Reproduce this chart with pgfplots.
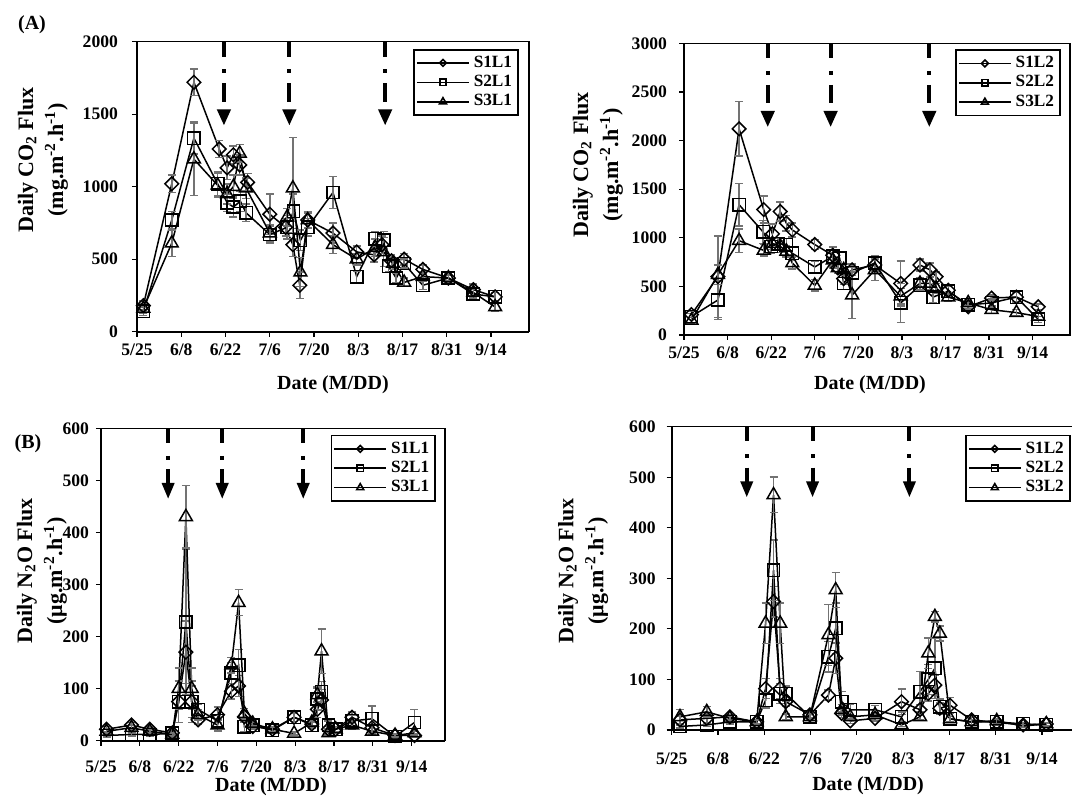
\documentclass[border=0pt]{standalone}
\usepackage{pgfplots}
\pgfplotsset{compat=1.18}
\usepackage{pgfplotstable}
\usepackage{fontspec}
\setmainfont{Liberation Serif}
\definecolor{errgray}{RGB}{115,115,115}

% ---------- CO2, L1 ----------
\pgfplotstableread{
x y e
2 180 30
11 1020 60
18 1720 90
26 1260 60
28.5 1130 80
30.5 1220 60
32.5 1150 70
35 1030 60
42 810 140
47 720 60
49.3 600 80
51.5 320 90
54 770 60
62 680 70
69.5 550 40
75 530 50
77.5 600 60
80.5 490 40
84.5 500 40
90.4 430 30
98.5 370 20
106.4 290 40
113.3 240 30
}\tAa
\pgfplotstableread{
x y e
2 140 30
11 770 60
18 1335 110
25.5 1020 80
28.5 890 60
30.5 860 70
32.7 900 70
34.5 820 60
42 670 60
47.5 720 80
49.5 830 120
51.7 630 70
54 720 60
62 960 110
69.5 380 40
75.4 640 50
78 630 60
79.6 450 40
82 370 30
84.5 470 30
90.4 320 30
98.5 370 30
106.4 260 30
113.3 240 30
}\tAb
\pgfplotstableread{
x y e
2 160 30
11 610 90
18 1190 250
25.5 1010 80
28.5 950 70
30.5 1000 80
32.5 1230 60
34.5 990 70
42 680 60
47.5 790 60
49.3 990 350
51.7 410 100
54 770 50
62 600 60
69.5 500 40
75.4 580 60
78 550 100
81 470 40
84.5 340 30
90.4 380 30
98.5 370 30
106.4 270 30
113.3 170 30
}\tAc
% ---------- CO2, L2 ----------
\pgfplotstableread{
x y e
2.4 210 30
10.9 600 420
17.7 2120 280
25.6 1290 140
28.4 1040 100
30.9 1270 100
32.9 1150 80
34.8 1080 70
42 930 50
47.8 820 80
49.4 690 60
51.3 580 60
54 670 60
61.3 720 60
69.6 530 230
75.8 720 60
79 670 70
81 600 50
84.9 460 40
91.3 290 30
98.8 380 30
106.8 390 50
113.8 290 30
}\tBa
\pgfplotstableread{
x y e
2.4 190 30
10.9 360 200
17.7 1340 220
25.4 1060 120
28 910 70
30.2 940 60
32.9 930 60
34.8 840 70
42 700 60
47.8 810 100
50 790 60
51.3 530 60
54 640 60
61.3 740 70
69.6 330 200
75.8 510 60
80 390 60
84.9 450 50
91.3 310 40
98.8 330 40
106.8 390 60
113.8 160 30
}\tBb
\pgfplotstableread{
x y e
2.4 150 30
10.9 620 100
17.7 970 120
25.6 870 60
28.4 940 60
31 910 60
32.9 860 60
34.8 740 60
42 510 60
47.8 770 80
49.4 690 60
51.3 670 60
54 410 240
61.3 670 110
69.6 400 80
75.8 530 60
79 530 60
81 480 50
84.9 390 40
91.3 330 30
98.8 260 40
106.8 230 30
113.8 190 30
}\tBc
% ---------- N2O, L1 ----------
\pgfplotstableread{
x y e
2 22 5
11 30 5
17.6 22 4
25.7 15 4
28 75 40
30.6 170 60
32.7 75 30
35 40 8
42 50 15
47 95 15
49.6 105 20
51.7 46 10
54.7 27 5
61.8 22 5
69.6 45 8
76 32 6
78 60 15
79.5 78 20
82 22 5
84.6 22 5
90.5 45 10
97.7 25 6
106 10 3
113 10 3
}\tCa
\pgfplotstableread{
x y e
2 10 3
11 12 3
17.6 12 3
25.7 14 3
28 75 40
30.6 228 140
32.7 75 40
35 60 10
42 38 20
47 130 20
49.6 145 30
51.7 27 10
54.7 30 5
61.8 20 5
69.6 45 8
76 30 6
78 80 20
79.5 94 20
82 30 8
84.6 22 5
90.5 38 10
97.7 42 25
106 8 3
113 35 25
}\tCb
\pgfplotstableread{
x y e
2 18 4
11 25 4
17.6 18 4
25.7 12 3
28 100 40
30.6 430 60
32.7 100 40
35 50 10
42 30 10
47 145 15
49.6 265 25
51.7 52 10
54.7 33 5
61.8 22 5
69.6 14 3
76 35 6
78 88 15
79.5 172 43
82 15 4
84.6 22 5
90.5 30 8
97.7 18 5
106 10 3
113 15 3
}\tCc
% ---------- N2O, L2 ----------
\pgfplotstableread{
x y e
2.5 20 8
10.6 23 8
17.6 26 5
25.7 16 4
28.4 82 20
30.8 254 30
32.8 82 20
34.5 56 10
41.8 30 6
47.4 69 10
49.6 142 30
51.4 33 8
54 18 5
61.5 23 5
69.5 56 25
75.1 40 10
77.6 72 15
79.6 89 20
81.1 43 10
84.2 49 15
90.7 20 5
98.3 15 5
106.3 10 3
113.3 12 3
}\tDa
\pgfplotstableread{
x y e
2.5 7 3
10.6 10 3
17.6 16 4
25.7 16 4
28.4 59 15
30.8 316 60
32.8 72 20
34.5 72 15
41.8 26 6
47.4 145 30
49.6 201 50
51.4 56 20
54 40 10
61.5 40 8
69.5 26 10
75.1 76 40
77.6 100 30
79.6 122 60
81.1 46 15
84.2 22 5
90.7 16 5
98.3 16 5
106.3 12 3
113.3 10 3
}\tDb
\pgfplotstableread{
x y e
2.5 26 15
10.6 36 10
17.6 23 5
25.7 16 4
28.4 211 40
30.8 465 35
32.8 211 40
34.5 26 6
41.8 26 6
47.4 188 60
49.6 277 35
51.4 40 10
54 26 5
61.5 30 5
69.5 10 3
75.1 26 5
77.6 152 30
79.6 224 10
81.1 191 15
84.2 22 5
90.7 16 5
98.3 18 5
106.3 8 3
113.3 12 3
}\tDc

\newcommand{\arrA}[2]{%
  \draw[line width=2pt] (axis cs:#1,#2) -- ++(0,-7.5pt);
  \draw[line width=2pt] (axis cs:#1,#2) ++(0,-13.8pt) -- ++(0,-2pt);
  \draw[line width=2pt] (axis cs:#1,#2) ++(0,-20.8pt) -- ++(0,-9.2pt);
  \fill (axis cs:#1,#2) ++(-3.6pt,-33.8pt) -- ++(7.2pt,0) -- ++(-3.6pt,-7.9pt) -- cycle;
}
\newcommand{\arrB}[2]{%
  \draw[line width=2pt] (axis cs:#1,#2) -- ++(0,-7.2pt);
  \draw[line width=2pt] (axis cs:#1,#2) ++(0,-13.8pt) -- ++(0,-2pt);
  \draw[line width=2pt] (axis cs:#1,#2) ++(0,-20.5pt) -- ++(0,-7.5pt);
  \fill (axis cs:#1,#2) ++(-3.3pt,-27.3pt) -- ++(6.6pt,0) -- ++(-3.3pt,-7.8pt) -- cycle;
}

\pgfplotsset{
  panel/.style={
    scale only axis, anchor=south west,
    xmin=0, xmax=124, ymin=0,
    xtick={0,14,...,112},
    xticklabels={5/25,6/8,6/22,7/6,7/20,8/3,8/17,8/31,9/14},
    tick align=outside, xtick pos=bottom, ytick pos=left,
    major tick length=2.5pt,
    every tick/.style={line width=0.6pt, black},
    axis line style={line width=0.6pt},
    clip=false,
    ticklabel style={font=\bfseries\fontsize{8.8}{10}\selectfont},
    /pgf/number format/assume math mode=true,
    /pgf/number format/1000 sep={},
    xlabel={Date (M/DD)},
    xlabel style={font=\bfseries\fontsize{10}{12}\selectfont, anchor=center},
    ylabel style={font=\bfseries\fontsize{11}{15}\selectfont, anchor=center, align=center},
    legend cell align=left,
    legend image code/.code={\draw[mark repeat=2,mark phase=2,#1] plot coordinates {(0pt,0pt) (13pt,0pt) (26pt,0pt)};},
    legend style={draw=black, line width=0.8pt, font=\bfseries\fontsize{8.6}{10}\selectfont,
      anchor=north east, inner sep=1pt, row sep=-1.5pt},
    error bars/y dir=both, error bars/y explicit,
    error bars/error bar style={errgray, line width=0.75pt},
    error bars/error mark options={rotate=90, mark size=2pt, errgray, line width=0.75pt},
    after end axis/.code={\draw[line width=1.1pt] (rel axis cs:0,1) -- (rel axis cs:0,0) -- (rel axis cs:1,0);},
  },
  sD/.style={black, line width=0.75pt, mark=square, mark size=2.4pt, mark options={rotate=45, fill=white, solid, line width=0.75pt}},
  sS/.style={black, line width=0.75pt, mark=square, mark size=3.1pt, mark options={fill=white, solid, line width=0.75pt}},
  sT/.style={black, line width=0.75pt, mark=triangle, mark size=3.7pt, mark options={fill=white, solid, line width=0.75pt}},
  lD/.style={black, line width=0.8pt, mark=square, mark size=1.2pt, mark options={rotate=45, fill=white, line width=0.8pt}},
  lS/.style={black, line width=0.8pt, mark=square, mark size=1.6pt, mark options={fill=white, line width=0.8pt}},
  lT/.style={black, line width=0.8pt, mark=triangle, mark size=2pt, mark options={fill=white, line width=0.8pt}},
}

\begin{document}
\begin{tikzpicture}
\useasboundingbox (0,0) rectangle (536pt,399pt);

\node[font=\bfseries\fontsize{10}{12}\selectfont] at (16pt,386.5pt) {(A)};
\node[font=\bfseries\fontsize{10}{12}\selectfont] at (14pt,177pt) {(B)};

% ---- top left ----
\begin{axis}[panel, at={(68.5pt,233.15pt)}, width=196pt, height=145pt,
  ymax=2000, ytick={0,500,...,2000},
  yticklabel style={xshift=-3.5pt},
  ylabel={Daily CO\textsubscript{2} Flux\\(mg.m\textsuperscript{-2}.h\textsuperscript{-1})},
  ylabel style={at={(axis description cs:-0.240,0.592)}},
  xlabel style={at={(axis description cs:0.5,-0.184)}},
  legend style={at={(0.974,0.975)}}]
\addlegendimage{lD}\addlegendimage{lS}\addlegendimage{lT}
\legend{S1L1,S2L1,S3L1}
\addplot[sD, forget plot] table[x=x,y=y,y error=e] {\tAa};
\addplot[sS, forget plot] table[x=x,y=y,y error=e] {\tAb};
\addplot[sT, forget plot] table[x=x,y=y,y error=e] {\tAc};
\arrA{27.5}{2000}\arrA{48.2}{2000}\arrA{78.5}{2000}
\end{axis}

% ---- top right ----
\begin{axis}[panel, at={(342pt,231.5pt)}, width=193pt, height=145.85pt,
  ymax=3000, ytick={0,500,...,3000},
  yticklabel style={xshift=-2.5pt},
  ylabel={Daily CO\textsubscript{2} Flux\\(mg.m\textsuperscript{-2}.h\textsuperscript{-1})},
  ylabel style={at={(axis description cs:-0.223,0.583)}},
  xlabel style={at={(axis description cs:0.482,-0.171)}},
  legend style={at={(0.976,0.979)}}]
\addlegendimage{lD}\addlegendimage{lS}\addlegendimage{lT}
\legend{S1L2,S2L2,S3L2}
\addplot[sD, forget plot] table[x=x,y=y,y error=e] {\tBa};
\addplot[sS, forget plot] table[x=x,y=y,y error=e] {\tBb};
\addplot[sT, forget plot] table[x=x,y=y,y error=e] {\tBc};
\arrA{26.9}{3000}\arrA{47.1}{3000}\arrA{78.8}{3000}
\end{axis}

% ---- bottom left ----
\begin{axis}[panel, at={(50.5pt,28.65pt)}, width=172pt, height=156.2pt,
  ymax=600, ytick={0,100,...,600},
  xticklabel style={yshift=-4pt},
  ylabel={Daily N\textsubscript{2}O Flux\\(μg.m\textsuperscript{-2}.h\textsuperscript{-1})},
  ylabel style={at={(axis description cs:-0.172,0.543)}},
  xlabel style={at={(axis description cs:0.494,-0.148)}},
  legend style={at={(0.974,0.979)}}]
\addlegendimage{lD}\addlegendimage{lS}\addlegendimage{lT}
\legend{S1L1,S2L1,S3L1}
\addplot[sD, forget plot] table[x=x,y=y,y error=e] {\tCa};
\addplot[sS, forget plot] table[x=x,y=y,y error=e] {\tCb};
\addplot[sT, forget plot] table[x=x,y=y,y error=e] {\tCc};
\arrB{24.2}{600}\arrB{43.7}{600}\arrB{72.9}{600}
\end{axis}

% ---- bottom right ----
\begin{axis}[panel, at={(335.85pt,34pt)}, width=205pt, height=151.65pt,
  ymax=600, ytick={0,100,...,600},
  xticklabel style={yshift=-5.5pt},
  yticklabel style={xshift=-2pt},
  ylabel={Daily N\textsubscript{2}O Flux\\(μg.m\textsuperscript{-2}.h\textsuperscript{-1})},
  ylabel style={at={(axis description cs:-0.216,0.524)}},
  xlabel style={at={(axis description cs:0.479,-0.185)}},
  legend style={at={(0.973,0.973)}}]
\addlegendimage{lD}\addlegendimage{lS}\addlegendimage{lT}
\legend{S1L2,S2L2,S3L2}
\addplot[sD, forget plot] table[x=x,y=y,y error=e] {\tDa};
\addplot[sS, forget plot] table[x=x,y=y,y error=e] {\tDb};
\addplot[sT, forget plot] table[x=x,y=y,y error=e] {\tDc};
\arrB{22.7}{600}\arrB{42.6}{600}\arrB{71.9}{600}
\end{axis}
\end{tikzpicture}
\end{document}
